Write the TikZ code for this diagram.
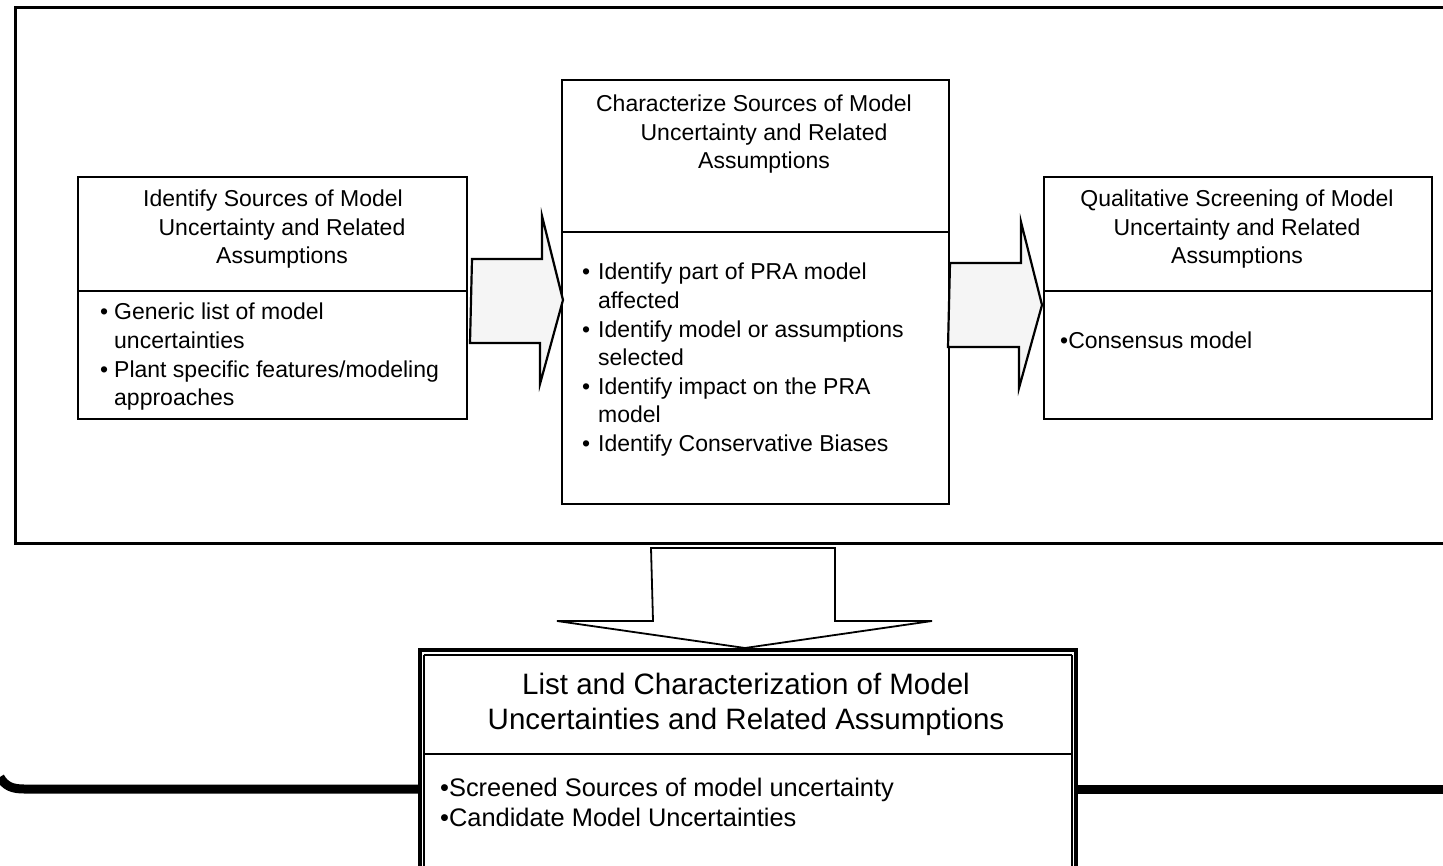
\documentclass[tikz,border=0pt]{standalone}
\usepackage{fontspec}
\setmainfont{Liberation Sans}
\usetikzlibrary{calc}
\begin{document}
\begin{tikzpicture}[x=1pt,y=-1pt,
  box/.style={draw=black, line width=2pt, fill=white, inner sep=0pt, anchor=north west},
  divider/.style={line width=1.6pt},
  ttl/.style={align=center, inner sep=0pt, anchor=north, font=\fontsize{23}{28.4}\selectfont},
  lst/.style={align=left, inner sep=0pt, anchor=north west, font=\fontsize{23}{28.6}\selectfont},
  blockarrow/.style={draw=black, line width=2.2pt, fill=gray!8, line join=miter},
  downarrow/.style={draw=black, line width=1.8pt, fill=white, line join=miter},
  frameline/.style={line width=3pt, line join=miter},
  busline/.style={line width=9pt},
]
\useasboundingbox (0,0) rectangle (1443,866);

% outer frame, open on the right
\coordinate (ftl) at (15,8);
\coordinate (fbl) at (15,543);
\draw[frameline] (1443,8) -- (ftl) -- (fbl) -- (1443,543);

% the three process boxes
\node[box, minimum width=389pt, minimum height=242pt] (ident) at (77,176) {};
\node[box, minimum width=387pt, minimum height=424pt] (charac) at (561,79) {};
\node[box, minimum width=388pt, minimum height=242pt] (screen) at (1043,176) {};
\draw[divider] ($(ident.north west)+(0,115)$) -- ($(ident.north east)+(0,115)$);
\draw[divider] ($(charac.north west)+(0,153)$) -- ($(charac.north east)+(0,153)$);
\draw[divider] ($(screen.north west)+(0,115)$) -- ($(screen.north east)+(0,115)$);

% result box with double border
\node[box, line width=4pt, minimum width=656pt, minimum height=240pt] (result) at (418,648) {};
\draw[line width=1.5pt] ($(result.north west)+(6,7)$) -- ($(result.north east)+(-6,7)$)
  ($(result.north west)+(6,7)$) -- ($(result.south west)+(6,0)$)
  ($(result.north east)+(-6,7)$) -- ($(result.south east)+(-6,0)$);
\draw[divider] ($(result.north west)+(6,106)$) -- ($(result.north east)+(-6,106)$);

% horizontal bus through the result box
\coordinate (bus) at (0,789);
\draw[busline] (0,777) .. controls (5,786) and (12,789) .. (24,789) -- (result.west |- bus);
\draw[busline] (result.east |- bus) -- (1443,789);

% block arrows between the boxes
\coordinate (r1) at (0,300);
\coordinate (r2) at (0,305);
\draw[blockarrow] ($(ident.east |- r1)+(4,-41)$) -- ++(70,0) -- ++(0,-43)
  -- ($(charac.west |- r1)+(2,0)$) -- ++(-23,84) -- ++(0,-41) -- ++(-70,0) -- cycle;
\draw[blockarrow] ($(charac.east |- r2)+(0,-42)$) -- ++(71,0) -- ++(0,-41)
  -- ($(screen.west |- r2)+(-1,0)$) -- ++(-23,83) -- ++(0,-41) -- ++(-71,0) -- cycle;

% downward arrow from the frame to the result box
\coordinate (c3) at (743,0);
\draw[downarrow] ($(fbl -| c3)+(-92,5)$) -- ++(184,0) -- ++(0,73) -- ++(97,0)
  -- ($(result.north)+(-3,0)$) -- ++(-188,-27) -- ++(96,0) -- cycle;

% texts
\node[ttl] (identT) at (282,190) {Identify Sources of Model\hspace*{18pt}\\Uncertainty and Related\\Assumptions};
\node[lst] (identL) at (100,303) {\makebox[14pt][l]{•}Generic list of model\\
  \hspace*{14pt}uncertainties\\
  \makebox[14pt][l]{•}Plant specific features/modeling\\
  \hspace*{14pt}approaches};

\node[ttl] (characT) at (764,95) {Characterize Sources of Model\hspace*{20pt}\\Uncertainty and Related\\Assumptions};
\node[lst] (characL) at (582,263) {\makebox[16pt][l]{•}Identify part of PRA model\\
  \hspace*{16pt}affected\\
  \makebox[16pt][l]{•}Identify model or assumptions\\
  \hspace*{16pt}selected\\
  \makebox[16pt][l]{•}Identify impact on the PRA\\
  \hspace*{16pt}model\\
  \makebox[16pt][l]{•}Identify Conservative Biases};

\node[ttl] (screenT) at (1237,190) {Qualitative Screening of Model\\Uncertainty and Related\\Assumptions};
\node[lst] (screenL) at (1060,332) {•Consensus model};

\node[ttl, font=\fontsize{29.5}{35}\selectfont] (resultT) at (746,673) {List and Characterization of Model\\Uncertainties and Related Assumptions};
\node[lst, font=\fontsize{25.4}{30}\selectfont] (resultL) at (440,778) {•Screened Sources of model uncertainty\\•Candidate Model Uncertainties};
\end{tikzpicture}
\end{document}
